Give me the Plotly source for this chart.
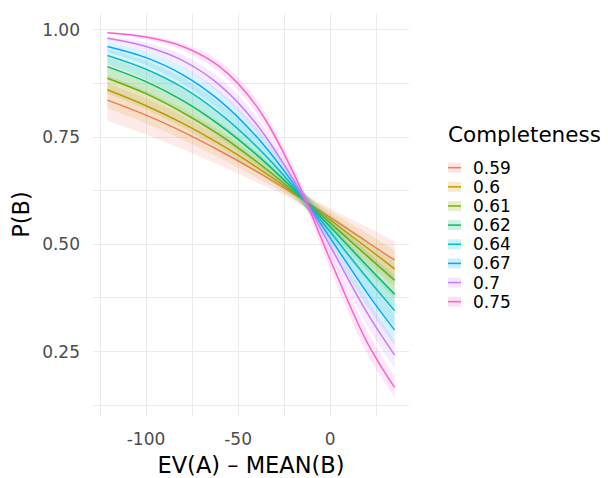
import math
import plotly.graph_objects as go

# ---------------- data ----------------
completeness = ["0.59", "0.6", "0.61", "0.62", "0.64", "0.67", "0.7", "0.75"]
x_vals = [-121, -100, -80, -60, -40, -20, 0, 20, 35]

p_059 = [0.836, 0.801, 0.762, 0.718, 0.670, 0.618, 0.563, 0.506, 0.463]
p_060 = [0.860, 0.823, 0.782, 0.734, 0.680, 0.621, 0.557, 0.492, 0.443]
p_061 = [0.887, 0.851, 0.807, 0.755, 0.693, 0.624, 0.550, 0.473, 0.416]
p_062 = [0.914, 0.879, 0.835, 0.778, 0.709, 0.629, 0.541, 0.450, 0.384]
p_064 = [0.940, 0.908, 0.865, 0.805, 0.728, 0.635, 0.529, 0.422, 0.345]
p_067 = [0.961, 0.935, 0.895, 0.835, 0.751, 0.642, 0.515, 0.387, 0.300]
p_070 = [0.980, 0.961, 0.928, 0.871, 0.780, 0.651, 0.496, 0.341, 0.242]
p_075 = [0.993, 0.983, 0.961, 0.914, 0.822, 0.667, 0.464, 0.272, 0.166]

# half-width of the confidence band (logit units) at each x position
band_halfwidth = [0.315, 0.262, 0.212, 0.162, 0.112, 0.062, 0.087, 0.137, 0.175]

x_tickvals = [-100, -50, 0]
x_ticktext = ["-100", "-50", "0"]
y_tickvals = [0.25, 0.50, 0.75, 1.00]
y_ticktext = ["0.25", "0.50", "0.75", "1.00"]

series = [p_059, p_060, p_061, p_062, p_064, p_067, p_070, p_075]
colors = ["#F8766D", "#CD9600", "#7CAE00", "#00BE67",
          "#00BFC4", "#00A9FF", "#C77CFF", "#FF61CC"]


def rgba(hexcol, a):
    h = hexcol.lstrip("#")
    r, g, b = int(h[0:2], 16), int(h[2:4], 16), int(h[4:6], 16)
    return f"rgba({r},{g},{b},{a})"


def logit(p):
    return math.log(p / (1 - p))


def inv_logit(v):
    return 1 / (1 + math.exp(-v))


fig = go.Figure()
for name, vals, col in zip(completeness, series, colors):
    lower = [inv_logit(logit(p) - h) for p, h in zip(vals, band_halfwidth)]
    upper = [inv_logit(logit(p) + h) for p, h in zip(vals, band_halfwidth)]
    fig.add_trace(go.Scatter(x=x_vals, y=lower, mode="lines",
                             line=dict(width=0, shape="spline", color=col),
                             showlegend=False, hoverinfo="skip"))
    fig.add_trace(go.Scatter(x=x_vals, y=upper, mode="lines", fill="tonexty",
                             fillcolor=rgba(col, 0.15),
                             line=dict(width=0, shape="spline", color=col),
                             showlegend=False, hoverinfo="skip"))
    fig.add_trace(go.Scatter(x=x_vals, y=vals, mode="lines", name=name,
                             line=dict(width=1.5, shape="spline", color=col),
                             showlegend=False))

# ---------------- layout ----------------
# the page body has an 8px margin, so the figure is 8px smaller than the window
OFF = 8
W, H = 608 - OFF, 478 - OFF
L, R, T, B = 93 - OFF, 608 - 409, 13 - OFF, 478 - 416
pw, ph = W - L - R, H - T - B


def px_x(px):
    return (px - OFF - L) / pw


def px_y(py):
    return (H - B - (py - OFF)) / ph


grid_major = "#EBEBEB"
fig.update_layout(
    width=W, height=H,
    margin=dict(l=L, r=R, t=T, b=B, autoexpand=False),
    paper_bgcolor="white", plot_bgcolor="white",
    font=dict(family="DejaVu Sans", color="#000000"),
    showlegend=False,
    xaxis=dict(
        range=[-128.8, 42.8], tickvals=x_tickvals, ticktext=x_ticktext,
        showgrid=True, gridcolor=grid_major, gridwidth=1.3,
        zeroline=False, showline=False, ticks="",
        tickfont=dict(size=17, color="#4D4D4D"), ticklabelstandoff=11,
        minor=dict(tickvals=[-125, -75, -25, 25], showgrid=True,
                   gridcolor=grid_major, gridwidth=0.7),
        title=dict(text="EV(A) – MEAN(B)", font=dict(size=22.5, color="#000000"),
                   standoff=11),
        automargin=False,
    ),
    yaxis=dict(
        range=[0.100, 1.039], tickvals=y_tickvals, ticktext=y_ticktext,
        showgrid=True, gridcolor=grid_major, gridwidth=1.3,
        zeroline=False, showline=False, ticks="",
        tickfont=dict(size=17, color="#4D4D4D"), ticklabelstandoff=12,
        minor=dict(tickvals=[0.125, 0.375, 0.625, 0.875], showgrid=True,
                   gridcolor=grid_major, gridwidth=0.7),
        title=dict(text="P(B)", font=dict(size=22.5, color="#000000"),
                   standoff=6),
        automargin=False,
    ),
)

# ---------------- manual legend ----------------
shapes = []
annotations = []
annotations.append(dict(text="Completeness", xref="paper", yref="paper",
                        x=px_x(446), y=px_y(135), xanchor="left", yanchor="middle",
                        showarrow=False, font=dict(size=21.5, color="#000000")))
for i, (name, col) in enumerate(zip(completeness, colors)):
    cy = 167.7 + 19.14 * i
    shapes.append(dict(type="rect", xref="paper", yref="paper",
                       x0=px_x(448), x1=px_x(461), y0=px_y(cy + 5), y1=px_y(cy - 5),
                       fillcolor=rgba(col, 0.2), line=dict(width=0)))
    shapes.append(dict(type="line", xref="paper", yref="paper",
                       x0=px_x(448), x1=px_x(461), y0=px_y(cy), y1=px_y(cy),
                       line=dict(color=col, width=1.5)))
    annotations.append(dict(text=name, xref="paper", yref="paper",
                            x=px_x(471), y=px_y(cy), xanchor="left", yanchor="middle",
                            showarrow=False, font=dict(size=17, color="#000000")))
fig.update_layout(shapes=shapes, annotations=annotations)

fig.write_html("out.html")
